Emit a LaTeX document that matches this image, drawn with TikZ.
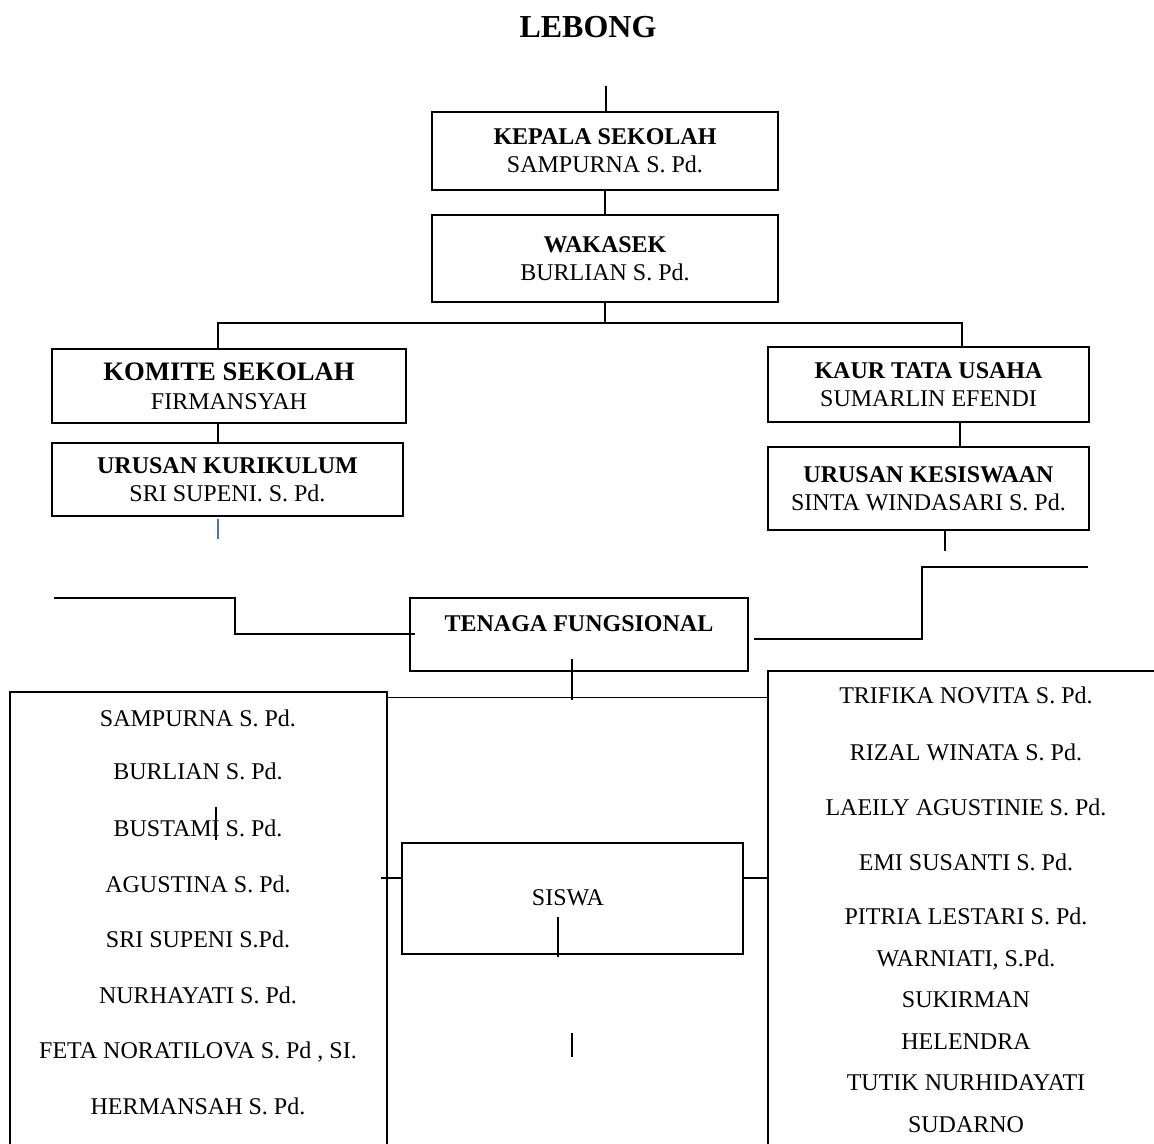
\documentclass[tikz,border=0pt]{standalone}
\usepackage{fontspec}
\setmainfont{Liberation Serif}
\definecolor{garisbiru}{RGB}{68,114,196}
\tikzset{
  kotak/.style={draw, line width=1.4pt, inner sep=0pt, align=center,
    font=\fontsize{18}{21}\selectfont},
  garis/.style={line width=1.4pt},
  tipis/.style={line width=0.9pt},
  isi/.style={anchor=base, font=\fontsize{18}{21}\selectfont},
}
\begin{document}
\begin{tikzpicture}[x=0.75pt,y=-0.75pt]
                \useasboundingbox (0,0) rectangle (1154,1144);
                \clip (0,0) rectangle (1154,1144);
                %judul
                \node[font=\fontsize{24}{28}\selectfont\bfseries] (judul) at (588,27) {LEBONG};
                %kotak atas
                \node[kotak, minimum width=346*0.75pt, minimum height=78*0.75pt] (kepala) at (605,151)
                    {\textbf{KEPALA SEKOLAH}\\SAMPURNA S. Pd.};
                \node[kotak, minimum width=346*0.75pt, minimum height=87*0.75pt] (wakasek) at (605,258.5)
                    {\textbf{WAKASEK}\\BURLIAN S. Pd.};
                \node[kotak, minimum width=354*0.75pt, minimum height=74*0.75pt, font=\fontsize{18}{22}\selectfont] (komite) at (229,386)
                    {\fontsize{20}{22}\selectfont\textbf{KOMITE SEKOLAH}\\FIRMANSYAH};
                \node[kotak, minimum width=351*0.75pt, minimum height=73*0.75pt] (kurikulum) at (227.5,479.5)
                    {\textbf{URUSAN KURIKULUM}\\SRI SUPENI. S. Pd.};
                \node[kotak, minimum width=321*0.75pt, minimum height=75*0.75pt] (kaur) at (928.5,384.5)
                    {\textbf{KAUR TATA USAHA}\\SUMARLIN EFENDI};
                \node[kotak, minimum width=321*0.75pt, minimum height=83*0.75pt] (kesiswaan) at (928.5,488.5)
                    {\textbf{URUSAN KESISWAAN}\\SINTA WINDASARI S. Pd.};
                %kotak bawah
                \node[kotak, minimum width=338*0.75pt, minimum height=73*0.75pt] (tenaga) at (579,634.5) {};
                \node[isi, font=\fontsize{18}{21}\selectfont\bfseries] (tenagateks) at (579,632) {TENAGA FUNGSIONAL};
                \node[kotak, minimum width=341*0.75pt, minimum height=111*0.75pt] (siswa) at (572.5,898.5) {};
                \node[isi] (siswateks) at (568,905) {SISWA};
                \node[kotak, minimum width=377*0.75pt, minimum height=540*0.75pt] (guru) at (198.5,962) {};
                \node[kotak, minimum width=440*0.75pt, minimum height=560*0.75pt] (staf) at (988,951) {};
                %daftar nama
                \foreach \nama/\y [count=\i] in {SAMPURNA S. Pd./727, BURLIAN S. Pd./779, BUSTAMI S. Pd./836,
                        AGUSTINA S. Pd./892, SRI SUPENI S.Pd./947.5, NURHAYATI S. Pd./1003,
                        {FETA NORATILOVA S. Pd , SI.}/1058, HERMANSAH S. Pd./1114}
                    \node[isi] (guru\i) at (198,\y) {\nama};
                \foreach \nama/\y [count=\i] in {TRIFIKA NOVITA S. Pd./704, RIZAL WINATA S. Pd./760,
                        LAEILY AGUSTINIE S. Pd./815, EMI SUSANTI S. Pd./870, PITRIA LESTARI S. Pd./924,
                        {WARNIATI, S.Pd.}/966, SUKIRMAN/1007.5, HELENDRA/1049, TUTIK NURHIDAYATI/1090,
                        SUDARNO/1132}
                    \node[isi] (staf\i) at (966,\y) {\nama};
                %garis atas
                \coordinate (atas) at (606,86);
                \coordinate (cabangkiri) at (218,323);
                \coordinate (cabangkanan) at (962,323);
                \coordinate (ujungbiru) at (218,539);
                \coordinate (kesiswaanbawah) at (945,551);
                \draw[garis] (atas) -- (atas |- kepala.north);
                \draw[garis] (kepala.south) -- (wakasek.north);
                \draw[garis] (wakasek.south) -- (wakasek.south |- cabangkiri);
                \draw[garis] (cabangkiri |- komite.north) -- (cabangkiri) -- (cabangkanan)
                        -- (cabangkanan |- kaur.north);
                \draw[garis] (cabangkiri |- komite.south) -- (cabangkiri |- kurikulum.north);
                \draw[garisbiru, tipis] ([yshift=-2*0.75pt]ujungbiru |- kurikulum.south) -- (ujungbiru);
                \draw[garis] ([xshift=-2*0.75pt]cabangkanan |- kaur.south) -- ([xshift=-2*0.75pt]cabangkanan |- kesiswaan.north);
                \draw[garis] (kesiswaanbawah |- kesiswaan.south) -- (kesiswaanbawah);
                %garis tengah
                \coordinate (kiriujung) at (54,598);
                \coordinate (kiribelok) at (235,598);
                \coordinate (kiritenaga) at (415,634);
                \coordinate (kananujung) at (1088,567);
                \coordinate (kananbelok) at (922,567);
                \coordinate (kanantenaga) at (754,639);
                \draw[garis] (kiriujung) -- (kiribelok) |- (kiritenaga);
                \draw[garis] (kananujung) -- (kananbelok) |- (kanantenaga);
                \coordinate (tengahatas) at (572,659);
                \coordinate (sambung) at (572,697.5);
                \draw[garis] (tengahatas) -- ([yshift=-2.5*0.75pt]sambung);
                \draw[garis] (guru.east |- sambung) -- (staf.west |- sambung);
                %garis siswa
                \coordinate (siswakiri) at (381,878);
                \coordinate (siswaatas) at (558,917);
                \coordinate (bawah) at (572,1033);
                \draw[garis] (siswakiri) -- (siswakiri -| siswa.west);
                \draw[garis] (siswa.east |- siswakiri) -- (staf.west |- siswakiri);
                \draw[garis] (siswaatas) -- ([yshift=-2*0.75pt]siswaatas |- siswa.south);
                \draw[tipis] (bawah) -- ++(0,24);
                \draw[tipis] (216,807) -- (216,840);
            \end{tikzpicture}
\end{document}
